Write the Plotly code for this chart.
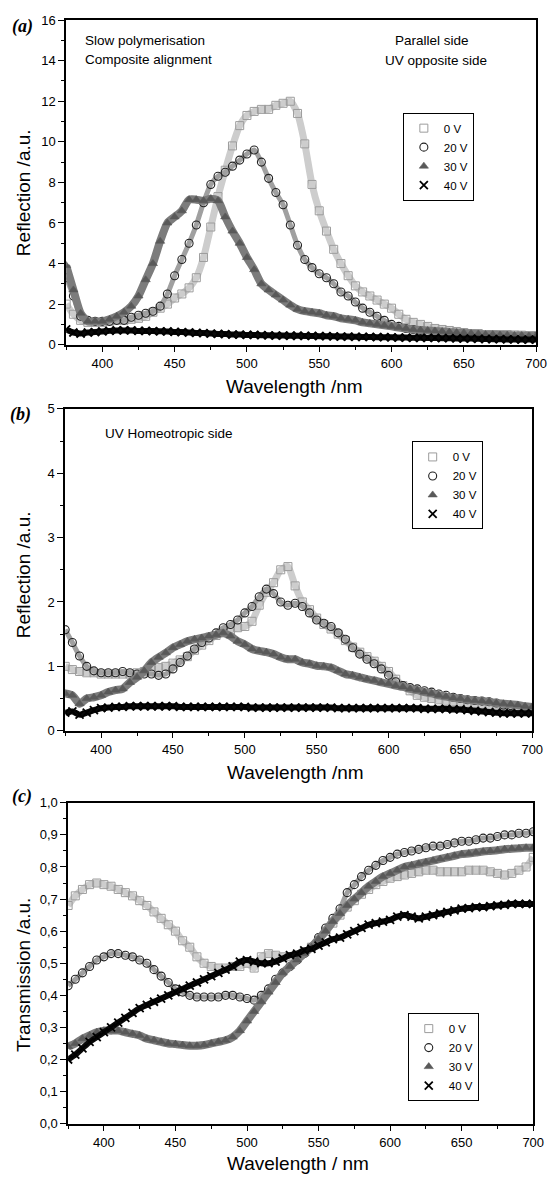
import plotly.graph_objects as go

# ---------------- data ----------------
wavelength = [375, 380, 385, 390, 395, 400, 405, 410, 415, 420, 425, 430, 435, 440, 445,
              450, 455, 460, 465, 470, 475, 480, 485, 490, 495, 500, 505, 510, 515, 520,
              525, 530, 535, 540, 545, 550, 555, 560, 565, 570, 575, 580, 585, 590, 595,
              600, 605, 610, 615, 620, 625, 630, 635, 640, 645, 650, 655, 660, 665, 670,
              675, 680, 685, 690, 695, 700]

series_names = ["0 V", "20 V", "30 V", "40 V"]

# (a) reflection, parallel side
refl_a_0V = [2.0, 1.5, 1.2, 1.1, 1.1, 1.1, 1.15, 1.2, 1.2, 1.25, 1.3, 1.4, 1.6, 1.8, 2.0,
             2.3, 2.5, 2.8, 3.3, 4.3, 5.8, 7.3, 8.6, 9.8, 10.8, 11.3, 11.5, 11.6, 11.6, 11.8,
             11.9, 12.0, 11.4, 9.9, 7.9, 6.6, 5.6, 4.7, 4.0, 3.4, 2.9, 2.6, 2.4, 2.2, 2.0,
             1.8, 1.5, 1.25, 1.1, 1.0, 0.9, 0.8, 0.75, 0.7, 0.65, 0.6, 0.55, 0.55, 0.5, 0.5,
             0.5, 0.5, 0.48, 0.47, 0.45, 0.45]
refl_a_20V = [3.3, 2.4, 1.4, 1.2, 1.15, 1.15, 1.15, 1.2, 1.2, 1.35, 1.45, 1.55, 1.65, 1.9, 2.5,
              3.4, 4.2, 5.0, 5.9, 7.0, 7.9, 8.3, 8.5, 8.8, 9.1, 9.4, 9.6, 9.0, 8.2, 7.5,
              6.9, 5.9, 4.9, 4.2, 3.8, 3.5, 3.3, 3.0, 2.6, 2.4, 2.1, 1.8, 1.6, 1.4, 1.2,
              1.0, 0.9, 0.8, 0.75, 0.7, 0.65, 0.6, 0.58, 0.55, 0.52, 0.5, 0.48, 0.47, 0.45, 0.45,
              0.43, 0.42, 0.4, 0.4, 0.4, 0.4]
refl_a_30V = [3.9, 2.7, 1.55, 1.15, 1.15, 1.15, 1.25, 1.4, 1.6, 1.9, 2.4, 3.2, 4.0, 5.1, 6.0,
              6.3, 6.6, 7.15, 7.15, 7.1, 7.2, 7.1, 6.3, 5.6, 5.0, 4.3, 3.7, 3.0, 2.7, 2.45,
              2.2, 1.95, 1.75, 1.65, 1.6, 1.55, 1.45, 1.4, 1.3, 1.25, 1.2, 1.1, 1.05, 1.0, 0.95,
              0.9, 0.85, 0.8, 0.75, 0.72, 0.7, 0.68, 0.65, 0.62, 0.6, 0.58, 0.55, 0.53, 0.5, 0.5,
              0.48, 0.47, 0.45, 0.45, 0.43, 0.42]
refl_a_40V = [0.75, 0.6, 0.55, 0.6, 0.62, 0.65, 0.68, 0.7, 0.7, 0.7, 0.68, 0.68, 0.67, 0.66, 0.65,
              0.63, 0.62, 0.6, 0.58, 0.57, 0.55, 0.53, 0.52, 0.5, 0.5, 0.48, 0.48, 0.47, 0.46, 0.45,
              0.45, 0.44, 0.44, 0.43, 0.43, 0.42, 0.42, 0.41, 0.4, 0.4, 0.39, 0.38, 0.38, 0.37, 0.37,
              0.36, 0.35, 0.35, 0.34, 0.34, 0.33, 0.33, 0.32, 0.32, 0.31, 0.3, 0.3, 0.29, 0.28, 0.27,
              0.27, 0.26, 0.26, 0.25, 0.25, 0.25]

# (b) reflection, UV homeotropic side
refl_b_0V = [1.0, 0.95, 0.92, 0.9, 0.9, 0.88, 0.88, 0.88, 0.88, 0.88, 0.9, 0.92, 0.95, 0.98, 1.0,
             1.05, 1.1, 1.15, 1.25, 1.33, 1.4, 1.48, 1.52, 1.56, 1.6, 1.62, 1.7, 1.95, 2.15, 2.3,
             2.5, 2.55, 2.25, 2.0, 1.88, 1.75, 1.65, 1.58, 1.5, 1.4, 1.3, 1.22, 1.15, 1.08, 1.0,
             0.92, 0.8, 0.7, 0.62, 0.55, 0.52, 0.5, 0.48, 0.46, 0.45, 0.44, 0.43, 0.42, 0.41, 0.4,
             0.4, 0.39, 0.38, 0.37, 0.36, 0.35]
refl_b_20V = [1.57, 1.37, 1.16, 1.0, 0.93, 0.9, 0.9, 0.9, 0.92, 0.9, 0.88, 0.88, 0.88, 0.86, 0.88,
              0.96, 1.06, 1.16, 1.27, 1.37, 1.44, 1.52, 1.6, 1.65, 1.72, 1.83, 1.93, 2.08, 2.2, 2.13,
              2.0, 1.95, 1.98, 1.93, 1.83, 1.72, 1.67, 1.62, 1.52, 1.42, 1.29, 1.19, 1.11, 1.04, 0.96,
              0.86, 0.76, 0.7, 0.67, 0.65, 0.62, 0.6, 0.57, 0.55, 0.52, 0.5, 0.48, 0.47, 0.46, 0.45,
              0.43, 0.4, 0.39, 0.37, 0.36, 0.35]
refl_b_30V = [0.58, 0.55, 0.42, 0.5, 0.52, 0.55, 0.6, 0.63, 0.65, 0.75, 0.83, 0.93, 1.06, 1.14, 1.21,
              1.29, 1.34, 1.39, 1.42, 1.44, 1.47, 1.49, 1.52, 1.47, 1.39, 1.34, 1.27, 1.24, 1.22, 1.19,
              1.14, 1.11, 1.11, 1.06, 1.04, 1.01, 1.0, 0.98, 0.93, 0.88, 0.86, 0.83, 0.8, 0.78, 0.75,
              0.73, 0.7, 0.68, 0.65, 0.63, 0.6, 0.58, 0.55, 0.53, 0.51, 0.5, 0.48, 0.47, 0.46, 0.45,
              0.43, 0.42, 0.41, 0.4, 0.38, 0.37]
refl_b_40V = [0.28, 0.3, 0.25, 0.28, 0.32, 0.35, 0.36, 0.37, 0.37, 0.38, 0.38, 0.38, 0.38, 0.38, 0.38,
              0.38, 0.37, 0.37, 0.37, 0.37, 0.37, 0.37, 0.37, 0.37, 0.37, 0.37, 0.36, 0.36, 0.36, 0.36,
              0.36, 0.36, 0.36, 0.36, 0.36, 0.36, 0.36, 0.36, 0.35, 0.35, 0.35, 0.35, 0.35, 0.35, 0.35,
              0.35, 0.35, 0.35, 0.35, 0.35, 0.34, 0.34, 0.34, 0.34, 0.33, 0.33, 0.32, 0.31, 0.3, 0.29,
              0.28, 0.27, 0.27, 0.27, 0.27, 0.27]

# (c) transmission
trans_c_0V = [0.68, 0.71, 0.73, 0.745, 0.75, 0.745, 0.74, 0.73, 0.72, 0.71, 0.695, 0.68, 0.66, 0.64, 0.62,
              0.6, 0.57, 0.55, 0.52, 0.5, 0.49, 0.485, 0.485, 0.49, 0.49, 0.5, 0.485, 0.52, 0.53, 0.525,
              0.52, 0.52, 0.525, 0.535, 0.55, 0.57, 0.6, 0.625, 0.65, 0.675, 0.695, 0.715, 0.73, 0.745, 0.755,
              0.765, 0.77, 0.775, 0.78, 0.785, 0.79, 0.79, 0.785, 0.785, 0.785, 0.785, 0.79, 0.79, 0.79, 0.785,
              0.78, 0.775, 0.78, 0.79, 0.8, 0.83]
trans_c_20V = [0.43, 0.45, 0.47, 0.49, 0.51, 0.52, 0.53, 0.53, 0.525, 0.52, 0.51, 0.5, 0.48, 0.46, 0.44,
               0.42, 0.41, 0.4, 0.395, 0.395, 0.395, 0.395, 0.4, 0.4, 0.395, 0.39, 0.385, 0.4, 0.42, 0.45,
               0.47, 0.49, 0.51, 0.53, 0.55, 0.58, 0.61, 0.64, 0.67, 0.72, 0.745, 0.77, 0.79, 0.805, 0.82,
               0.83, 0.84, 0.845, 0.85, 0.855, 0.86, 0.865, 0.865, 0.87, 0.875, 0.88, 0.88, 0.885, 0.89, 0.89,
               0.895, 0.9, 0.9, 0.905, 0.905, 0.91]
trans_c_30V = [0.24, 0.25, 0.265, 0.275, 0.285, 0.29, 0.29, 0.29, 0.285, 0.28, 0.275, 0.265, 0.26, 0.255, 0.25,
               0.248, 0.245, 0.243, 0.243, 0.245, 0.25, 0.255, 0.26, 0.27, 0.29, 0.32, 0.35, 0.38, 0.41, 0.44,
               0.47, 0.49, 0.51, 0.53, 0.55, 0.575, 0.6, 0.63, 0.655, 0.68, 0.7, 0.72, 0.74, 0.755, 0.77,
               0.78, 0.79, 0.8, 0.805, 0.81, 0.815, 0.82, 0.825, 0.83, 0.835, 0.84, 0.842, 0.845, 0.848, 0.85,
               0.852, 0.855, 0.857, 0.858, 0.86, 0.86]
trans_c_40V = [0.2, 0.215, 0.235, 0.255, 0.27, 0.285, 0.3, 0.315, 0.33, 0.345, 0.36, 0.37, 0.38, 0.39, 0.4,
               0.41, 0.42, 0.43, 0.44, 0.45, 0.46, 0.47, 0.48, 0.49, 0.505, 0.51, 0.505, 0.5, 0.5, 0.505,
               0.515, 0.525, 0.53, 0.54, 0.545, 0.555, 0.565, 0.575, 0.58, 0.59, 0.6, 0.61, 0.62, 0.625, 0.63,
               0.635, 0.645, 0.65, 0.645, 0.64, 0.645, 0.65, 0.655, 0.66, 0.665, 0.67, 0.672, 0.675, 0.675, 0.678,
               0.68, 0.682, 0.685, 0.685, 0.685, 0.685]

y_ticks_a = [0, 2, 4, 6, 8, 10, 12, 14, 16]
y_ticks_b = [0, 1, 2, 3, 4, 5]
y_ticks_c = [0.0, 0.1, 0.2, 0.3, 0.4, 0.5, 0.6, 0.7, 0.8, 0.9, 1.0]
y_ticktext_c = ["0,0", "0,1", "0,2", "0,3", "0,4", "0,5", "0,6", "0,7", "0,8", "0,9", "1,0"]
x_ticks = [400, 450, 500, 550, 600, 650, 700]

panels = [
    [refl_a_0V, refl_a_20V, refl_a_30V, refl_a_40V],
    [refl_b_0V, refl_b_20V, refl_b_30V, refl_b_40V],
    [trans_c_0V, trans_c_20V, trans_c_30V, trans_c_40V],
]
for p in panels:
    for s in p:
        assert len(s) == len(wavelength), len(s)

# ---------------- style ----------------
W, H = 555, 1185
SANS = "Liberation Sans, Arial, sans-serif"
SERIF = "Liberation Serif, Times New Roman, serif"

styles = [
    dict(symbol="square-open", color="#9c9c9c", size=8, lw=1.0, line_color="#cdcdcd", line_w=7),
    dict(symbol="circle-open", color="#222222", size=8, lw=1.1, line_color="#a0a0a0", line_w=5),
    dict(symbol="triangle-up", color="#595959", size=8, lw=0.6, line_color="#7c7c7c", line_w=8),
    dict(symbol="x-thin", color="#000000", size=8, lw=1.8, line_color="#0a0a0a", line_w=6),
]

def px_x(v):
    return v / W

def px_y(v):
    return 1 - v / H

# plot-area boxes in pixels: (left, right, top, bottom)
boxes = [(67.5, 547, 13.3, 342), (66.5, 543, 407, 733), (69.5, 544, 806, 1131)]

fig = go.Figure()
legend_ids = ["legend", "legend2", "legend3"]
for pi, series in enumerate(panels):
    xa = "x" if pi == 0 else f"x{pi+1}"
    ya = "y" if pi == 0 else f"y{pi+1}"
    for si, vals in enumerate(series):
        st = styles[si]
        # band under the markers
        fig.add_trace(go.Scatter(
            x=wavelength, y=vals, mode="lines", xaxis=xa, yaxis=ya,
            line=dict(color=st["line_color"], width=st["line_w"], shape="spline", smoothing=0.6),
            showlegend=False, hoverinfo="skip"))
        fig.add_trace(go.Scatter(
            x=wavelength, y=vals, mode="markers", name=series_names[si],
            xaxis=xa, yaxis=ya, legend=legend_ids[pi],
            marker=dict(symbol=st["symbol"], size=st["size"], color=st["color"],
                        line=dict(width=st["lw"], color=st["color"]))))

axis_common = dict(showline=True, linecolor="black", linewidth=1.5, mirror=True,
                   ticks="outside", ticklen=6, tickwidth=1.2, tickcolor="black",
                   showgrid=False, zeroline=False,
                   tickfont=dict(family=SANS, size=13, color="black"))

yranges = [[0, 16], [0, 5], [0, 1]]
ytickv = [y_ticks_a, y_ticks_b, y_ticks_c]
ytickt = [[str(v) for v in y_ticks_a], [str(v) for v in y_ticks_b], y_ticktext_c]
yminor = [1, 0.5, 0.05]

layout = dict(width=W, height=H, margin=dict(l=0, r=0, t=0, b=0),
              paper_bgcolor="white", plot_bgcolor="white",
              font=dict(family=SANS, color="black"))

for pi, (l, r, t, b) in enumerate(boxes):
    xk = "xaxis" if pi == 0 else f"xaxis{pi+1}"
    yk = "yaxis" if pi == 0 else f"yaxis{pi+1}"
    ya = "y" if pi == 0 else f"y{pi+1}"
    xa = "x" if pi == 0 else f"x{pi+1}"
    layout[xk] = dict(axis_common, domain=[px_x(l), px_x(r)], range=[375, 700],
                      tickvals=x_ticks, anchor=ya,
                      minor=dict(ticks="outside", ticklen=3.5, tickwidth=1, tickcolor="black",
                                 dtick=25, tick0=375, showgrid=False))
    layout[yk] = dict(axis_common, domain=[px_y(b), px_y(t)], range=yranges[pi],
                      tickvals=ytickv[pi], ticktext=ytickt[pi], anchor=xa,
                      minor=dict(ticks="outside", ticklen=3.5, tickwidth=1, tickcolor="black",
                                 dtick=yminor[pi], tick0=0, showgrid=False))

legend_pos = [(411, 107), (420, 440), (416, 1019)]
for pi, (lx, ly) in enumerate(legend_pos):
    layout[legend_ids[pi]] = dict(x=px_x(lx), y=px_y(ly), xanchor="left", yanchor="top",
                                  bgcolor="white", bordercolor="black", borderwidth=1,
                                  font=dict(family=SANS, size=11.5, color="black"),
                                  itemwidth=30, tracegroupgap=0)

fig.update_layout(**layout)

def ann(text, x, y, size=13.5, xanchor="center", family=SANS, angle=0, **font_kw):
    fig.add_annotation(text=text, x=px_x(x), y=px_y(y), xref="paper", yref="paper",
                       xanchor=xanchor, yanchor="middle", showarrow=False, textangle=angle,
                       font=dict(family=family, size=size, color="black", **font_kw))

# panel labels
ann("(a)", 23, 20, size=18, family=SERIF, weight="bold", style="italic")
ann("(b)", 21, 413, size=18, family=SERIF, weight="bold", style="italic")
ann("(c)", 22, 800, size=18, family=SERIF, weight="bold", style="italic")

# in-plot texts
ann("Slow polymerisation", 85, 34, xanchor="left")
ann("Composite alignment", 85, 53, xanchor="left")
ann("Parallel side", 441, 34)
ann("UV opposite side", 445, 54)
ann("UV Homeotropic side", 105, 432, xanchor="left")

# axis titles
ann("Wavelength /nm", 300, 384, size=19)
ann("Wavelength /nm", 301, 775, size=19)
ann("Wavelength / nm", 304, 1171, size=19)
ann("Reflection /a.u.", 24, 188, size=19, angle=-90)
ann("Reflection /a.u.", 24, 575, size=19, angle=-90)
ann("Transmission /a.u.", 24, 980, size=19, angle=-90)

fig.write_html("out.html")
